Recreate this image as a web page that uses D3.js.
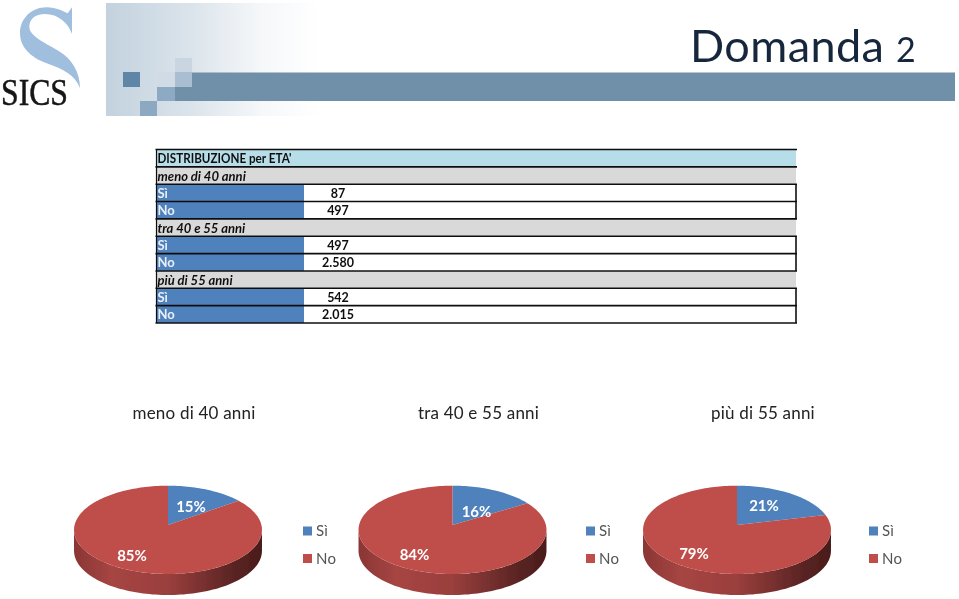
<!DOCTYPE html>
<html>
<head>
<meta charset="utf-8">
<script src="https://cdn.jsdelivr.net/npm/d3@7"></script>
<style>
html,body{margin:0;padding:0;background:#fff;}
svg{display:block;}
text{font-family:Lato,sans-serif;}
</style>
</head>
<body>
<svg id="chart" width="959" height="599"></svg>
<script>
var answers = ['Sì','No'];
var groups = ['meno di 40 anni','tra 40 e 55 anni','più di 55 anni'];
var valuesYes = [87,497,542];
var valuesNo = [497,2580,2015];
var valueLabelsYes = ['87','497','542'];
var valueLabelsNo = ['497','2.580','2.015'];
var percentYes = ['15%','16%','21%'];
var percentNo = ['85%','84%','79%'];
var tableTitle = "DISTRIBUZIONE per ETA'";
var pageTitle = 'Domanda';
var pageNumber = '2';

var svg = d3.select('#chart');
var defs = svg.append('defs');

// the reference is a soft scan, take the edge off everything a little
defs.append('filter').attr('id','soft')
    .attr('x',0).attr('y',0).attr('width',1).attr('height',1)
    .attr('filterUnits','userSpaceOnUse')
    .attr('width',959).attr('height',599)
    .append('feGaussianBlur').attr('stdDeviation',0.35);
var root = svg.append('g').attr('filter','url(#soft)');

// HEADER -----------------
var fade = defs.append('linearGradient').attr('id','head-fade');
fade.append('stop').attr('offset',0).attr('stop-color','#c3d2de');
fade.append('stop').attr('offset',0.4).attr('stop-color','#dbe4eb');
fade.append('stop').attr('offset',0.72).attr('stop-color','#f5f7f9');
fade.append('stop').attr('offset',1).attr('stop-color','#ffffff');

root.append('rect').attr('x',106).attr('y',3).attr('width',214).attr('height',113).attr('fill','url(#head-fade)');
root.append('rect').attr('x',175).attr('y',72.5).attr('width',780).attr('height',28.5).attr('fill','#6f90aa');

var squares = [
    [123,72,17,15,'#5f86a6'],
    [157,72,18,15,'#d0dbe5'],
    [175,58,17,14,'#c9d5e0'],
    [175,72,17,15,'#a9bfd1'],
    [157,87,18,14,'#8daac4'],
    [140,101,17,15,'#8da9c2']
];
root.selectAll('.sq').data(squares).enter().append('rect').attr('class','sq')
    .attr('x',function(d){ return d[0] })
    .attr('y',function(d){ return d[1] })
    .attr('width',function(d){ return d[2] })
    .attr('height',function(d){ return d[3] })
    .attr('fill',function(d){ return d[4] });

// logo
root.append('path')
    .attr('transform','scale(0.3333)')
    .attr('fill','#a0bfdf')
    .attr('d','M216 22 L216 102 C205 70 175 42 135 42 C105 42 88 58 88 80 C88 108 135 128 175 152 C215 175 240 215 240 265 C225 225 190 208 140 190 C90 172 60 140 60 100 C60 55 95 22 140 22 C170 22 190 35 203 40 Z');
root.append('text')
    .attr('x',1).attr('y',105)
    .style('font-family','"Liberation Serif",serif')
    .style('font-size','38px')
    .attr('textLength',67).attr('lengthAdjust','spacingAndGlyphs')
    .attr('fill','#141414')
    .attr('stroke','#141414').attr('stroke-width',0.5)
    .text('SICS');

root.append('text')
    .attr('x',690).attr('y',62)
    .attr('fill','#17263c')
    .style('font-size','45px')
    .style('letter-spacing','0.4px')
    .text(pageTitle);
root.append('text')
    .attr('x',896).attr('y',62)
    .attr('fill','#17263c')
    .style('font-size','34px')
    .text(pageNumber);

// TABLE -----------------
var rows = [{type:'head',label:tableTitle}];
groups.forEach(function(g,i){
    rows.push({type:'group',label:g});
    rows.push({type:'value',label:answers[0],value:valueLabelsYes[i]});
    rows.push({type:'value',label:answers[1],value:valueLabelsNo[i]});
});

var tableX = 156.5, tableRight = 796, tableTop = 149.5, colSplit = 304;
var rowY = d3.scaleBand().domain(d3.range(rows.length)).range([tableTop,323]);
var rowH = rowY.bandwidth();
var table = root.append('g');

var row = table.selectAll('g').data(rows).enter().append('g')
    .attr('transform',function(d,i){ return 'translate(0,'+rowY(i)+')' });

row.append('rect')
    .attr('x',tableX).attr('width',tableRight-tableX).attr('height',rowH)
    .attr('fill',function(d){ return d.type=='head' ? '#b7dde8' : (d.type=='group' ? '#d9d9d9' : '#fff') });
row.filter(function(d){ return d.type=='value' }).append('rect')
    .attr('x',tableX).attr('width',colSplit-tableX).attr('height',rowH)
    .attr('fill','#4f81bd');
row.filter(function(d){ return d.type=='value' }).append('line')
    .attr('x1',tableRight).attr('x2',tableRight).attr('y1',0).attr('y2',rowH)
    .attr('stroke','#111').attr('stroke-width',1.6);
row.append('line')
    .attr('x1',tableX-1).attr('x2',tableRight+1).attr('y1',0).attr('y2',0)
    .attr('stroke','#111').attr('stroke-width',1.6);
table.append('line')
    .attr('x1',tableX-1).attr('x2',tableRight+1).attr('y1',323).attr('y2',323)
    .attr('stroke','#111').attr('stroke-width',1.6);
table.append('line')
    .attr('x1',tableX).attr('x2',tableX).attr('y1',tableTop).attr('y2',323)
    .attr('stroke','#111').attr('stroke-width',1.2);

row.append('text')
    .attr('x',tableX+1).attr('y',rowH-3.5)
    .style('font-size','13px')
    .style('font-weight','bold')
    .style('font-style',function(d){ return d.type=='group' ? 'italic' : 'normal' })
    .attr('fill',function(d){ return d.type=='value' ? '#e9eff7' : '#111' })
    .each(function(d){
        if(d.type=='head') d3.select(this).attr('textLength',134).attr('lengthAdjust','spacingAndGlyphs');
    })
    .text(function(d){ return d.label });
row.filter(function(d){ return d.type=='value' }).append('text')
    .attr('x',338).attr('y',rowH-3.5)
    .attr('text-anchor','middle')
    .style('font-size','12.5px')
    .style('font-weight','bold')
    .attr('fill','#111')
    .text(function(d){ return d.value });

// PIES -----------------
var pieX = d3.scalePoint().domain(groups).range([168,737]);
var legendX = d3.scalePoint().domain(groups).range([303,869]);
var legendY = d3.scalePoint().domain(answers).range([531,558.5]);
var titleOffset = 26;
var labelOffsets = [
    [[23,-19],[-36,30]],
    [[24,-14],[-38,29]],
    [[27,-20],[-43,28]]
];

var rx = 93.4, ry = 43.6, tilt = 0.11, depth = 21, apexY = 525;
var pie = d3.pie().sort(null).startAngle(0).endAngle(2*Math.PI);

// circle angle -> flattened pie with the far side a bit smaller
function project(a){
    var w = 1 + tilt*Math.cos(a);
    return [rx*Math.sin(a)/w, -ry*Math.cos(a)/w];
}
function arcPoints(a0,a1){
    var n = Math.max(2,Math.ceil((a1-a0)/0.03));
    return d3.range(n+1).map(function(i){ return project(a0+(a1-a0)*i/n) });
}
var line = d3.line();

var wall = defs.append('linearGradient').attr('id','wall');
wall.append('stop').attr('offset',0).attr('stop-color','#8a3634');
wall.append('stop').attr('offset',0.2).attr('stop-color','#a64543');
wall.append('stop').attr('offset',0.5).attr('stop-color','#9a3f3d');
wall.append('stop').attr('offset',0.85).attr('stop-color','#5a2423');
wall.append('stop').attr('offset',1).attr('stop-color','#4a1c1b');

var colors = ['#4f81bd','#bf4d4a'];

groups.forEach(function(g,i){
    var cx = pieX(g);
    var gp = root.append('g').attr('transform','translate('+cx+','+apexY+')');
    var slices = pie([valuesYes[i],valuesNo[i]]);

    // side wall, front half of the outline pushed down
    var outline = arcPoints(0,2*Math.PI);
    var right = d3.scan(outline,function(a,b){ return b[0]-a[0] });
    var left = d3.scan(outline,function(a,b){ return a[0]-b[0] });
    var front = outline.slice(right,left+1);
    var lower = front.map(function(p){ return [p[0],p[1]+depth] }).reverse();
    gp.append('path')
        .attr('d',line(front.concat(lower))+'Z')
        .attr('fill','url(#wall)');

    gp.selectAll('.slice').data(slices).enter().append('path').attr('class','slice')
        .attr('d',function(d){ return line([[0,0]].concat(arcPoints(d.startAngle,d.endAngle)))+'Z' })
        .attr('fill',function(d,j){ return colors[j] });

    var texts = [percentYes[i],percentNo[i]];
    gp.selectAll('.pct').data(texts).enter().append('text').attr('class','pct')
        .attr('x',function(d,j){ return labelOffsets[i][j][0] })
        .attr('y',function(d,j){ return labelOffsets[i][j][1] })
        .attr('text-anchor','middle')
        .attr('dominant-baseline','central')
        .attr('fill','#fff')
        .style('font-size','15px')
        .style('font-weight','bold')
        .text(function(d){ return d });

    root.append('text')
        .attr('x',cx+titleOffset).attr('y',419)
        .attr('text-anchor','middle')
        .attr('fill','#222')
        .style('font-size','17px')
        .style('letter-spacing','0.2px')
        .text(g);

    var legend = root.append('g').attr('transform','translate('+legendX(g)+',0)');
    answers.forEach(function(a,j){
        legend.append('rect')
            .attr('x',0).attr('y',legendY(a)-4.5)
            .attr('width',9).attr('height',9)
            .attr('fill',colors[j]);
        legend.append('text')
            .attr('x',13).attr('y',legendY(a)+5)
            .attr('fill','#555')
            .style('font-size','15px')
            .style('letter-spacing','0.3px')
            .text(a);
    });
});
</script>
</body>
</html>
